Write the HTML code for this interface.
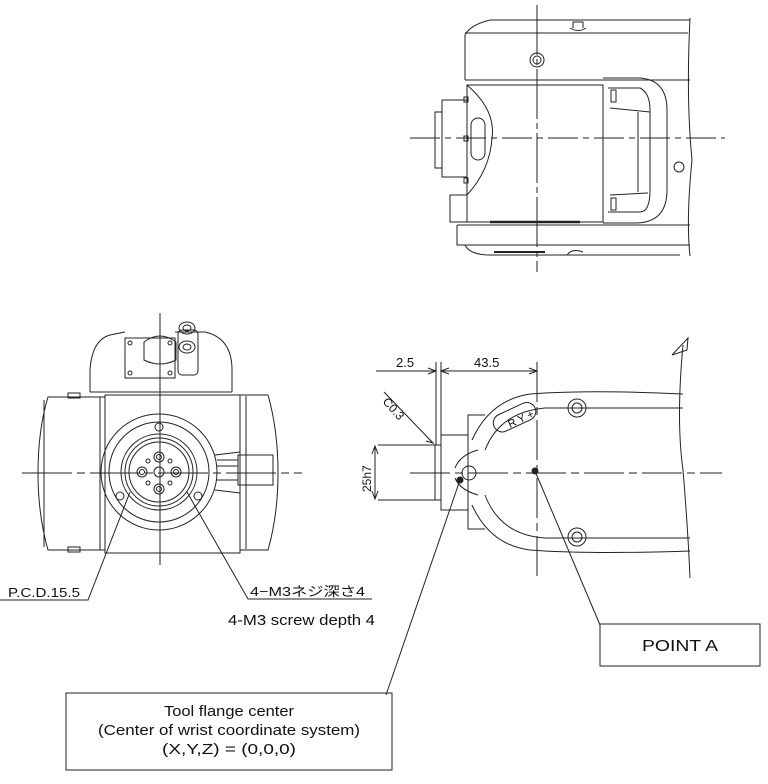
<!DOCTYPE html>
<html><head><meta charset="utf-8"><style>
html,body{margin:0;padding:0;background:#fff;}
svg{display:block;}
text{font-family:"Liberation Sans","Noto Sans CJK JP",sans-serif;fill:#111;}
</style></head><body>
<svg width="768" height="784" viewBox="0 0 768 784" xmlns="http://www.w3.org/2000/svg" fill="none" stroke="#222" stroke-width="1">
<!-- TOP VIEW -->
<g>
<path d="M465,35 Q470,25 490,20 L690,20"/>
<line x1="465" y1="33" x2="688" y2="33"/>
<line x1="465" y1="35" x2="465" y2="80"/>
<line x1="465" y1="80" x2="690" y2="80"/>
<path d="M690,18 Q686,100 692,160 Q686,220 690,256"/>
<path d="M573,28 L573,22 L583,22 L583,28 M570,28 Q578,33 586,28"/>
<circle cx="537" cy="60" r="7"/><circle cx="537" cy="60" r="4"/>
<rect x="467" y="85" width="136" height="137"/>
<path d="M467,85 Q496,110 492,138 Q490,170 467,195"/>
<path d="M603,78 L640,78 Q667,80 667,110 L667,190 Q667,223 635,223 L603,223"/>
<path d="M608,88 L640,88 Q650,93 650,110 L650,190 Q650,212 640,212 L608,212"/>
<path d="M610,108 L650,112 M610,195 L648,193 M638,112 L638,192"/>
<rect x="611" y="90" width="5" height="12"/><rect x="611" y="198" width="5" height="12"/>
<rect x="442" y="100" width="25" height="77"/>
<rect x="435" y="112" width="7" height="56"/>
<rect x="464" y="97" width="4" height="5"/><rect x="464" y="136" width="4" height="5"/><rect x="464" y="178" width="4" height="5"/>
<rect x="450" y="195" width="17" height="27"/>
<rect x="471" y="118" width="14" height="42" rx="7"/>
<path d="M490,222 L580,222" stroke-width="2.5"/>
<path d="M457,225 L690,225 M457,225 L457,245 L690,245 M465,245 Q470,255 490,255 L680,255"/>
<path d="M494,252 L545,252" stroke-width="2"/>
<path d="M567,255 Q572,248 583,252"/>
<circle cx="679" cy="167" r="5"/>
<line x1="537" y1="5" x2="537" y2="272" stroke-dasharray="50,4,6,4"/>
<line x1="410" y1="138" x2="725" y2="138" stroke-dasharray="30,5,6,5"/>
</g>

<!-- FRONT VIEW -->
<g>
<path d="M90,392 L90,370 Q92,340 110,335 L125,332 M175,332 L205,332 Q232,338 232,370 L232,392"/>
<line x1="90" y1="392" x2="232" y2="392"/>
<rect x="125" y="338" width="50" height="40"/>
<circle cx="130" cy="343" r="2"/><circle cx="170" cy="343" r="2"/><circle cx="130" cy="373" r="2"/><circle cx="170" cy="373" r="2"/>
<path d="M144,360 L144,342 Q160,330 176,342 L176,360 Q160,368 144,360Z"/>
<rect x="178" y="330" width="20" height="45" rx="4"/>
<ellipse cx="187" cy="328" rx="8" ry="6"/><ellipse cx="187" cy="328" rx="4" ry="3"/>
<ellipse cx="187" cy="347" rx="8" ry="6"/><ellipse cx="187" cy="347" rx="4" ry="3"/>
<rect x="105" y="395" width="135" height="158"/>
<path d="M105,397 L48,397 Q38,430 38,473 Q38,515 48,550 L105,550"/>
<line x1="44" y1="400" x2="44" y2="547"/>
<line x1="100" y1="397" x2="100" y2="550"/>
<rect x="68" y="393" width="12" height="5"/><rect x="68" y="547" width="12" height="5"/>
<path d="M240,395 L268,395 Q278,430 278,473 Q278,515 268,550 L240,550"/>
<line x1="246" y1="396" x2="246" y2="549"/>
<rect x="238" y="455" width="35" height="30"/>
<circle cx="159" cy="472" r="58"/>
<circle cx="159" cy="472" r="50"/>
<circle cx="159" cy="472" r="38"/><circle cx="159" cy="472" r="34"/><circle cx="159" cy="472" r="30"/>
<circle cx="159" cy="472" r="5"/>
<circle cx="159" cy="457" r="5"/><circle cx="159" cy="457" r="2.5"/>
<circle cx="159" cy="489" r="5"/><circle cx="159" cy="489" r="2.5"/>
<circle cx="142" cy="472" r="5"/><circle cx="142" cy="472" r="2.5"/>
<circle cx="176" cy="472" r="5"/><circle cx="176" cy="472" r="2.5"/>
<circle cx="148" cy="461" r="2"/><circle cx="170" cy="461" r="2"/><circle cx="148" cy="483" r="2"/><circle cx="170" cy="483" r="2"/>
<circle cx="159" cy="427" r="4"/><circle cx="120" cy="496" r="4"/><circle cx="198" cy="496" r="4"/>
<path d="M215,455 L240,452 M215,490 L240,493 M217,460 L238,460 M217,466 L238,466 M217,480 L238,480"/>
<line x1="160" y1="313" x2="160" y2="565"/>
<line x1="22" y1="473" x2="302" y2="473" stroke-dasharray="50,5,8,5"/>
<polyline points="0,600 88,600 130,492"/>
<polyline points="372,599 248,599 187,492"/>
</g>
<text x="8" y="597" font-size="13" textLength="72" lengthAdjust="spacingAndGlyphs" stroke="none" fill="#555">P.C.D.15.5</text>
<text x="250" y="596" font-size="13" textLength="115" lengthAdjust="spacingAndGlyphs" stroke="none" fill="#555">4−M3ネジ深さ4</text>
<text x="228" y="625" font-size="15" textLength="147" lengthAdjust="spacingAndGlyphs" stroke="none">4-M3 screw depth 4</text>

<!-- SIDE VIEW -->
<g>
<line x1="376" y1="371" x2="436" y2="371"/>
<line x1="441" y1="371" x2="537" y2="371"/>
<path d="M428,368 L436,371 L428,374 M449,368 L441,371 L449,374"/>
<path d="M529,368 L537,371 L529,374"/>
<line x1="436" y1="362" x2="436" y2="445"/>
<line x1="441" y1="362" x2="441" y2="435"/>
<line x1="384" y1="392" x2="433" y2="443"/>
<path d="M428,438 L433,443 L426,441"/>
<line x1="378" y1="445" x2="435" y2="445"/>
<line x1="378" y1="500" x2="435" y2="500"/>
<line x1="375" y1="447" x2="375" y2="498"/>
<path d="M372,454 L375,446 L378,454 M372,491 L375,499 L378,491"/>
<rect x="435" y="445" width="6" height="55"/>
<rect x="441" y="435" width="27" height="75"/>
<path d="M485,415 L468,415 L468,529 L485,529"/>
<path d="M472,440 Q490,400 530,394 L545,393 Q600,390 683,394"/>
<line x1="545" y1="408" x2="683" y2="408"/>
<path d="M485,450 Q500,412 545,408"/>
<path d="M485,495 Q500,535 545,538"/>
<path d="M472,505 Q490,545 530,550 L545,551 Q600,554 690,551"/>
<line x1="545" y1="538" x2="690" y2="538"/>
<rect x="492" y="408" width="45" height="18" rx="9" transform="rotate(-25 515 417)"/>
<text x="510" y="428" font-size="11" stroke="none" transform="rotate(-25 510 428)">R Y +</text>
<circle cx="577" cy="408" r="9"/><circle cx="577" cy="408" r="5"/>
<circle cx="577" cy="537" r="9"/><circle cx="577" cy="537" r="5"/>
<circle cx="469" cy="473" r="7"/>
<path d="M455,468 Q460,455 478,450 M455,478 Q460,490 478,495"/>
<circle cx="460" cy="480" r="3" fill="#222"/>
<circle cx="535" cy="471" r="3" fill="#222"/>
<path d="M683,345 Q676,420 683,470 Q688,530 690,578"/>
<path d="M672,355 L688,338 L687,350 Z"/>
<line x1="410" y1="473" x2="722" y2="473" stroke-dasharray="40,5,8,5"/>
<line x1="537" y1="362" x2="537" y2="578" stroke-dasharray="40,5,8,5"/>
<line x1="535" y1="471" x2="600" y2="625"/>
<line x1="460" y1="480" x2="386" y2="695"/>
</g>
<text x="396" y="367" font-size="13" stroke="none" fill="#555">2.5</text>
<text x="474" y="367" font-size="13" stroke="none" fill="#555">43.5</text>
<text x="382" y="402" font-size="12" stroke="none" fill="#555" transform="rotate(48 382 402)">C0.3</text>
<text x="371" y="492" font-size="12" stroke="none" fill="#555" transform="rotate(-90 371 492)">25h7</text>

<rect x="600" y="624" width="160" height="42"/>
<text x="680" y="651" font-size="16" textLength="76" lengthAdjust="spacingAndGlyphs" text-anchor="middle" stroke="none">POINT A</text>
<rect x="66" y="693" width="326" height="77"/>
<text x="229" y="716" font-size="15" textLength="130" lengthAdjust="spacingAndGlyphs" text-anchor="middle" stroke="none">Tool flange center</text>
<text x="229" y="735" font-size="15" textLength="262" lengthAdjust="spacingAndGlyphs" text-anchor="middle" stroke="none">(Center of wrist coordinate system)</text>
<text x="229" y="754" font-size="15" textLength="134" lengthAdjust="spacingAndGlyphs" text-anchor="middle" stroke="none">(X,Y,Z) = (0,0,0)</text>
</svg>
</body></html>
